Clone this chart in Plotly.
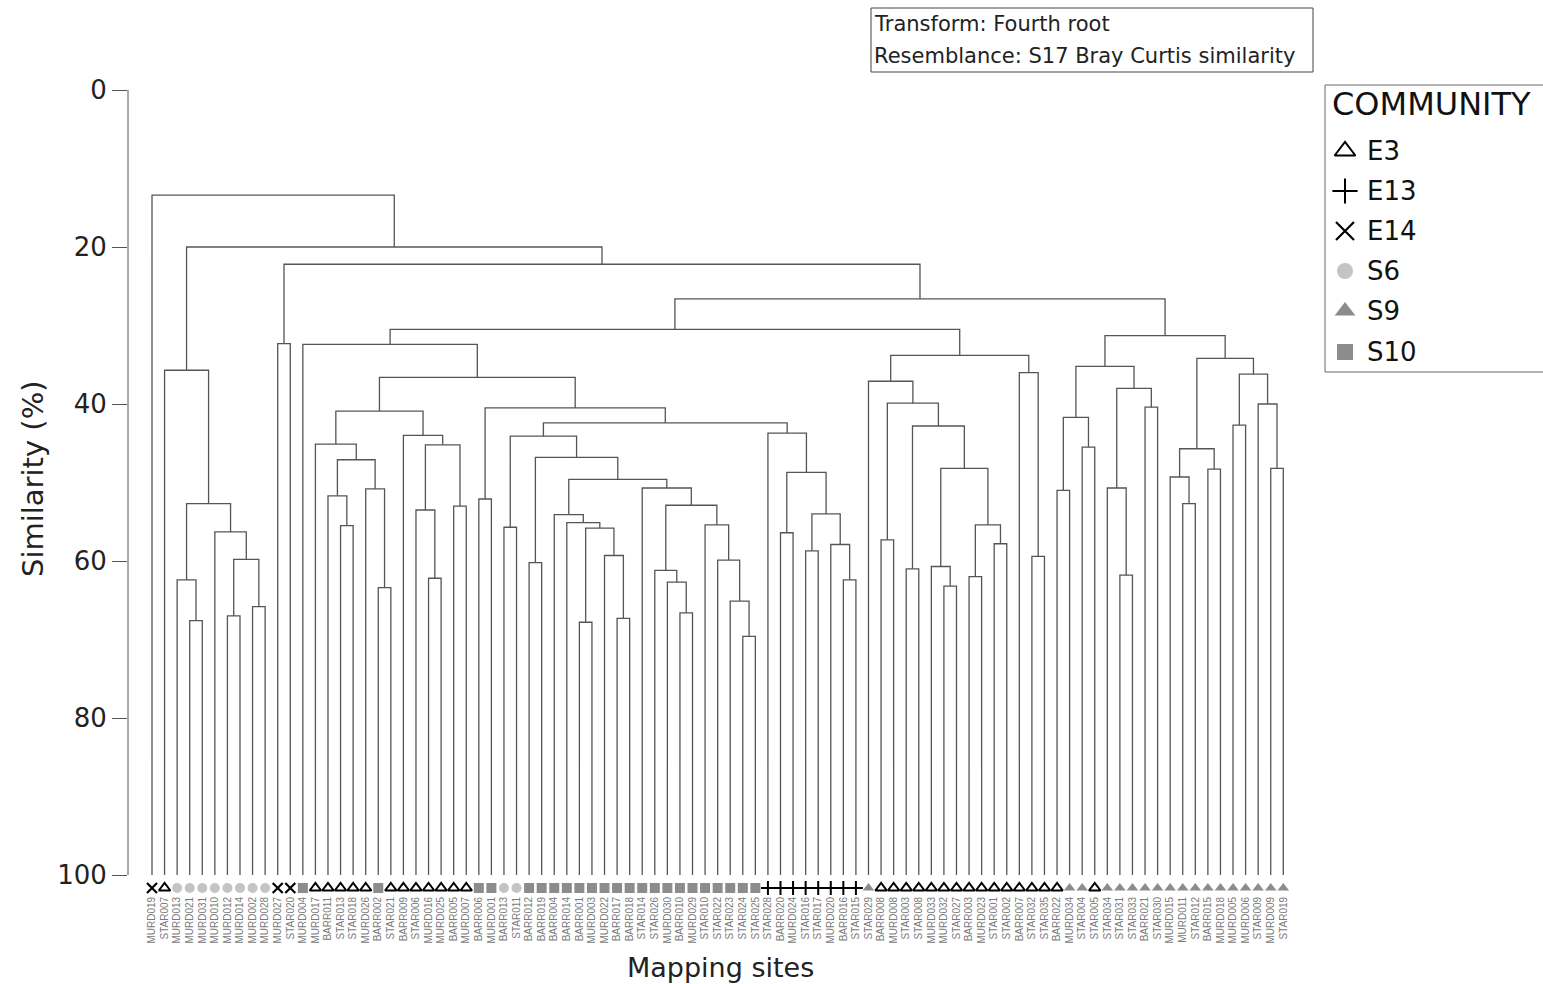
import plotly.graph_objects as go

# ---------------- data ----------------
leaf_labels = [
    "MURD019", "STAR007", "MURD013", "MURD021", "MURD031", "MURD010", "MURD012", "MURD014", "MURD002", "MURD028",
    "MURD027", "STAR020", "MURD004", "MURD017", "BARR011", "STAR013", "STAR018", "MURD026", "BARR002", "STAR021",
    "BARR009", "STAR006", "MURD016", "MURD025", "BARR005", "MURD007", "BARR006", "MURD001", "BARR013", "STAR011",
    "BARR012", "BARR019", "BARR004", "BARR014", "BARR001", "MURD003", "MURD022", "BARR017", "BARR018", "STAR014",
    "STAR026", "MURD030", "BARR010", "MURD029", "STAR010", "STAR022", "STAR023", "STAR024", "STAR025", "STAR028",
    "BARR020", "MURD024", "STAR016", "STAR017", "MURD020", "BARR016", "STAR015", "STAR029", "BARR008", "MURD008",
    "STAR003", "STAR008", "MURD033", "MURD032", "STAR027", "BARR003", "MURD023", "STAR001", "STAR002", "BARR007",
    "STAR032", "STAR035", "BARR022", "MURD034", "STAR004", "STAR005", "STAR034", "STAR031", "STAR033", "BARR021",
    "STAR030", "MURD015", "MURD011", "STAR012", "BARR015", "MURD018", "MURD005", "MURD006", "STAR009", "MURD009",
    "STAR019",
]

leaf_groups = [
    "E14", "E3", "S6", "S6", "S6", "S6", "S6", "S6", "S6", "S6",
    "E14", "E14", "S10", "E3", "E3", "E3", "E3", "E3", "S10", "E3",
    "E3", "E3", "E3", "E3", "E3", "E3", "S10", "S10", "S6", "S6",
    "S10", "S10", "S10", "S10", "S10", "S10", "S10", "S10", "S10", "S10",
    "S10", "S10", "S10", "S10", "S10", "S10", "S10", "S10", "S10", "E13",
    "E13", "E13", "E13", "E13", "E13", "E13", "E13", "S9", "E3", "E3",
    "E3", "E3", "E3", "E3", "E3", "E3", "E3", "E3", "E3", "E3",
    "E3", "E3", "E3", "S9", "S9", "E3", "S9", "S9", "S9", "S9",
    "S9", "S9", "S9", "S9", "S9", "S9", "S9", "S9", "S9", "S9",
    "S9",
]

# merges: (node name, left child, right child, similarity %)
# children are leaf indices (int) or earlier node names (str)
merges = [
    ("a1", 3, 4, 67.6), ("a2", 2, "a1", 62.4), ("a3", 6, 7, 67.0), ("a4", 8, 9, 65.8),
    ("a5", "a3", "a4", 59.8), ("a6", 5, "a5", 56.3), ("a7", "a2", "a6", 52.7), ("a8", 1, "a7", 35.7),
    ("b1", 10, 11, 32.3),
    ("c1", 15, 16, 55.5), ("c2", 14, "c1", 51.7), ("c3", 18, 19, 63.4), ("c4", 17, "c3", 50.8),
    ("c5", "c2", "c4", 47.1), ("c6", 13, "c5", 45.1), ("c7", 22, 23, 62.2), ("c8", 21, "c7", 53.5),
    ("c9", 24, 25, 53.0), ("c10", "c8", "c9", 45.2), ("c11", 20, "c10", 44.0), ("c12", "c6", "c11", 40.9),
    ("d1", 26, 27, 52.1), ("d2", 28, 29, 55.7), ("d3", 30, 31, 60.2), ("d4", 34, 35, 67.8),
    ("d5", 37, 38, 67.3), ("d6", 36, "d5", 59.3), ("d7", "d4", "d6", 55.8), ("d8", 33, "d7", 55.1),
    ("d9", 32, "d8", 54.1), ("d10", 42, 43, 66.6), ("d11", 41, "d10", 62.7), ("d12", 40, "d11", 61.2),
    ("d13", 47, 48, 69.6), ("d14", 46, "d13", 65.1), ("d15", 45, "d14", 59.9), ("d16", 44, "d15", 55.4),
    ("d17", "d12", "d16", 52.9), ("d18", 39, "d17", 50.7), ("d19", "d9", "d18", 49.6), ("d20", "d3", "d19", 46.8),
    ("d21", "d2", "d20", 44.1), ("d22", 50, 51, 56.4), ("d23", 52, 53, 58.7), ("d24", 55, 56, 62.4),
    ("d25", 54, "d24", 57.9), ("d26", "d23", "d25", 54.0), ("d27", "d22", "d26", 48.7), ("d28", 49, "d27", 43.7),
    ("d29", "d21", "d28", 42.4), ("d30", "d1", "d29", 40.5),
    ("e1", "c12", "d30", 36.6), ("e2", 12, "e1", 32.4),
    ("f1", 58, 59, 57.3), ("f2", 60, 61, 61.0), ("f3", 63, 64, 63.2), ("f4", 62, "f3", 60.7),
    ("f5", 65, 66, 62.0), ("f6", 67, 68, 57.8), ("f7", "f5", "f6", 55.4), ("f8", "f4", "f7", 48.2),
    ("f9", "f2", "f8", 42.8), ("f10", "f1", "f9", 39.9), ("f11", 57, "f10", 37.1), ("f12", 70, 71, 59.4),
    ("f13", 69, "f12", 36.0), ("f14", "f11", "f13", 33.8),
    ("e3", "e2", "f14", 30.5),
    ("g1", 72, 73, 51.0), ("g2", 74, 75, 45.5), ("g3", "g1", "g2", 41.7), ("g4", 77, 78, 61.8),
    ("g5", 76, "g4", 50.7), ("g6", 79, 80, 40.4), ("g7", "g5", "g6", 38.0), ("g8", "g3", "g7", 35.2),
    ("g9", 82, 83, 52.7), ("g10", 81, "g9", 49.3), ("g11", 84, 85, 48.3), ("g12", "g10", "g11", 45.7),
    ("g13", 86, 87, 42.7), ("g14", 89, 90, 48.2), ("g15", 88, "g14", 40.0), ("g16", "g13", "g15", 36.2),
    ("g17", "g12", "g16", 34.2), ("g18", "g8", "g17", 31.3),
    ("e4", "e3", "g18", 26.6), ("e5", "b1", "e4", 22.2), ("e6", "a8", "e5", 20.0), ("e7", 0, "e6", 13.4),
]

communities = ["E3", "E13", "E14", "S6", "S9", "S10"]
y_ticks = [0, 20, 40, 60, 80, 100]

# ---------------- styles ----------------
marker_style = {
    "E3":  dict(symbol="triangle-up-open", color="black", line=dict(color="black", width=2)),
    "E13": dict(symbol="cross-thin", color="black", line=dict(color="black", width=2)),
    "E14": dict(symbol="x-thin", color="black", line=dict(color="black", width=2.2)),
    "S6":  dict(symbol="circle", color="#c4c4c4", line=dict(width=0)),
    "S9":  dict(symbol="triangle-up", color="#8c8c8c", line=dict(width=0)),
    "S10": dict(symbol="square", color="#8c8c8c", line=dict(width=0)),
}

W, H = 1543, 984
PL, PR, PT = 128, 1310, 90            # plot area pixels (left, right, top = 0 %)
PY100 = 875                           # pixel row of 100 %
X0PX, DXPX = 152.0, 12.57             # first leaf pixel, leaf spacing
PX_PER_PCT = (PY100 - PT) / 100.0
Y_BOTTOM = 102.4                      # range bottom, leaves room for leaf markers
PB = PY100 + (Y_BOTTOM - 100) * PX_PER_PCT
x_range = [(PL - X0PX) / DXPX, (PR - X0PX) / DXPX]


def pxx(px):
    return px / W


def pxy(py):
    return 1 - py / H


fig = go.Figure()

# ---------------- dendrogram ----------------
pos = {i: (float(i), 100.0) for i in range(len(leaf_labels))}
xs, ys = [], []
for name, a, b, h in merges:
    xa, ha = pos[a]
    xb, hb = pos[b]
    xs += [xa, xa, xb, xb, None]
    ys += [ha, h, h, hb, None]
    pos[name] = ((xa + xb) / 2.0, h)

fig.add_trace(go.Scatter(x=xs, y=ys, mode="lines", line=dict(color="#555555", width=1.3),
                         hoverinfo="skip", showlegend=False))

# leaf markers
marker_y = (888 - PT) / PX_PER_PCT
for c in communities:
    idx = [i for i, g in enumerate(leaf_groups) if g == c]
    st = marker_style[c]
    fig.add_trace(go.Scatter(
        x=idx, y=[marker_y] * len(idx), mode="markers", cliponaxis=False, showlegend=False,
        marker=dict(symbol=st["symbol"], size=10, color=st["color"], line=st["line"]),
        hovertext=[leaf_labels[i] for i in idx], hoverinfo="text"))

# ---------------- legend (manual, pixel-unit axes) ----------------
legend_rows_py = [151, 191, 231, 271, 311, 352]
for c, ry in zip(communities, legend_rows_py):
    st = marker_style[c]
    fig.add_trace(go.Scatter(
        x=[1345], y=[ry], xaxis="x2", yaxis="y2", mode="markers", cliponaxis=False,
        showlegend=False, hoverinfo="skip",
        marker=dict(symbol=st["symbol"], size=18 if c not in ("S6", "S10") else 16,
                    color=st["color"], line=st["line"])))

annotations = []
shapes = []

shapes.append(dict(type="rect", xref="paper", yref="paper",
                   x0=pxx(1325), x1=pxx(1550), y0=pxy(372), y1=pxy(85),
                   line=dict(color="#6a6a6a", width=1), fillcolor="rgba(0,0,0,0)"))
annotations.append(dict(text="COMMUNITY", xref="paper", yref="paper",
                        x=pxx(1330), y=pxy(104), xanchor="left", yanchor="middle", showarrow=False,
                        font=dict(family="DejaVu Sans", size=32, color="#111")))
for c, ry in zip(communities, legend_rows_py):
    annotations.append(dict(text=c, xref="paper", yref="paper",
                            x=pxx(1365), y=pxy(ry), xanchor="left", yanchor="middle", showarrow=False,
                            font=dict(family="DejaVu Sans", size=26, color="#111")))

# ---------------- info box ----------------
shapes.append(dict(type="rect", xref="paper", yref="paper",
                   x0=pxx(871), x1=pxx(1313), y0=pxy(72), y1=pxy(8),
                   line=dict(color="#444", width=1), fillcolor="rgba(0,0,0,0)"))
for txt, ry in [("Transform: Fourth root", 24), ("Resemblance: S17 Bray Curtis similarity", 56)]:
    annotations.append(dict(text=txt, xref="paper", yref="paper",
                            x=pxx(872), y=pxy(ry), xanchor="left", yanchor="middle", showarrow=False,
                            font=dict(family="DejaVu Sans", size=21, color="#222")))

# y axis line (only from 0 % to 100 %)
shapes.append(dict(type="line", xref="x domain", yref="y", x0=0, x1=0, y0=0, y1=100,
                   line=dict(color="#555", width=1)))

# axis titles
annotations.append(dict(text="Similarity (%)", xref="paper", yref="paper",
                        x=pxx(33), y=pxy(479), textangle=-90,
                        xanchor="center", yanchor="middle", showarrow=False,
                        font=dict(family="DejaVu Sans", size=29, color="#222")))
annotations.append(dict(text="Mapping sites", xref="paper", yref="paper",
                        x=pxx(720), y=pxy(967), xanchor="center", yanchor="middle", showarrow=False,
                        font=dict(family="DejaVu Sans", size=27, color="#222")))

fig.update_layout(
    width=W, height=H,
    margin=dict(l=0, r=0, t=0, b=0, autoexpand=False),
    paper_bgcolor="white", plot_bgcolor="rgba(0,0,0,0)",
    showlegend=False,
    annotations=annotations, shapes=shapes,
    xaxis=dict(domain=[pxx(PL), pxx(PR)], range=x_range, showgrid=False, zeroline=False, showline=False,
               tickmode="array", tickvals=list(range(len(leaf_labels))), ticktext=leaf_labels,
               tickangle=-90, ticks="",
               tickfont=dict(family="Liberation Sans", size=10, color="#7a7a7a")),
    yaxis=dict(domain=[pxy(PB), pxy(PT)], range=[Y_BOTTOM, 0], showgrid=False, zeroline=False,
               showline=False,
               tickmode="array", tickvals=y_ticks, ticks="outside", ticklen=15,
               tickcolor="#555", tickwidth=1,
               tickfont=dict(family="DejaVu Sans", size=26, color="#222")),
    xaxis2=dict(domain=[pxx(1320), 1.0], range=[1320, W], visible=False, fixedrange=True),
    yaxis2=dict(domain=[pxy(380), pxy(80)], range=[380, 80], visible=False, fixedrange=True,
                anchor="x2"),
)
fig.update_layout(xaxis2_anchor="y2")

fig.write_html("out.html", config={"displayModeBar": False},
               post_script="document.body.style.margin='0px';")
